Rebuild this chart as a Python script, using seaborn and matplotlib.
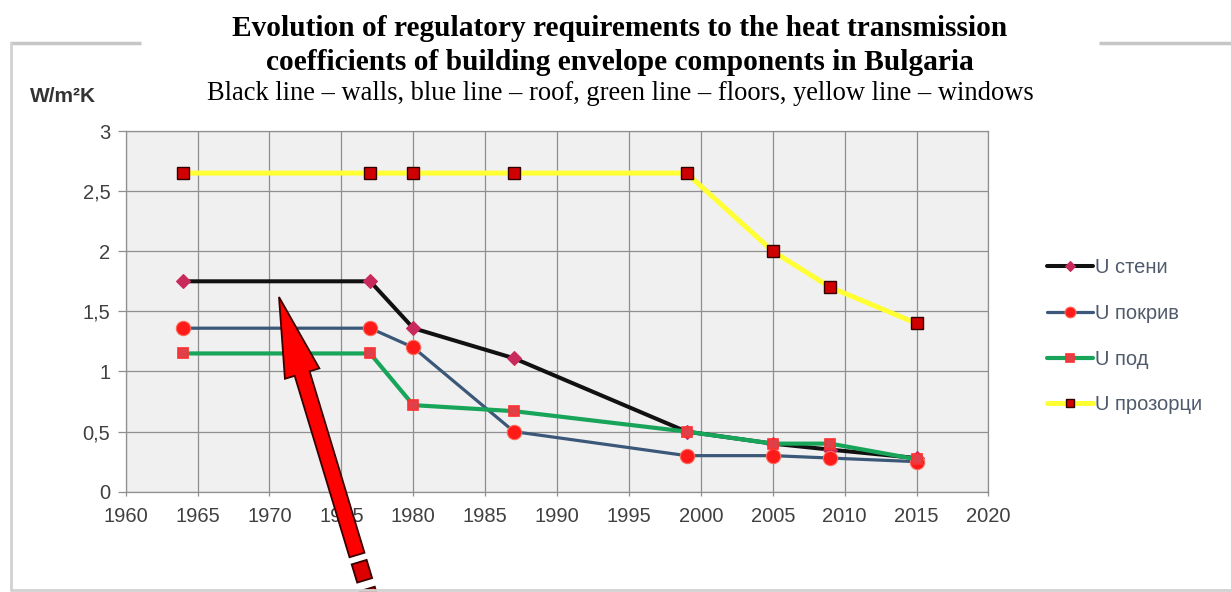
import numpy as np
import pandas as pd
import matplotlib
matplotlib.use('Agg')
import matplotlib.pyplot as plt
import seaborn as sns
from matplotlib.patches import Polygon

# ---------------- data ----------------
years = [1964, 1977, 1980, 1987, 1999, 2005, 2009, 2015]
u_walls = [1.75, 1.75, 1.36, 1.11, 0.50, 0.40, 0.35, 0.28]
u_roof = [1.36, 1.36, 1.20, 0.50, 0.30, 0.30, 0.28, 0.25]
u_floor = [1.15, 1.15, 0.72, 0.67, 0.50, 0.40, 0.40, 0.27]
u_windows = [2.65, 2.65, 2.65, 2.65, 2.65, 2.00, 1.70, 1.40]
series_labels = ['U стени', 'U покрив', 'U под', 'U прозорци']
x_ticks = [1960, 1965, 1970, 1975, 1980, 1985, 1990, 1995, 2000, 2005, 2010, 2015, 2020]
y_ticks = [0, 0.5, 1, 1.5, 2, 2.5, 3]
y_tick_labels = ['0', '0,5', '1', '1,5', '2', '2,5', '3']
title_line1 = 'Evolution of regulatory requirements to the heat transmission'
title_line2 = 'coefficients of building envelope components in Bulgaria'
subtitle = 'Black line \u2013 walls, blue line \u2013 roof, green line \u2013 floors, yellow line \u2013 windows'
unit_label = 'W/m\u00b2K'

df = pd.DataFrame({'year': years,
                   series_labels[0]: u_walls,
                   series_labels[1]: u_roof,
                   series_labels[2]: u_floor,
                   series_labels[3]: u_windows})

sns.set_style('white')
plt.rcParams['font.family'] = ['Liberation Sans', 'DejaVu Sans']

fig = plt.figure(figsize=(12.31, 5.92), dpi=100)
ax = fig.add_axes([0.1021, 0.1694, 0.7009, 0.6093])
ax.set_facecolor('#f0f0f0')

styles = [
    dict(color='#111111', linewidth=2.9, marker='D', markersize=7.2,
         markerfacecolor='#c92a5c', markeredgecolor='#c92a5c', markeredgewidth=0.8, zorder=3),
    dict(color='#3b5878', linewidth=2.3, marker='o', markersize=10.3,
         markerfacecolor='#ff1a1a', markeredgecolor='#ff6a5a', markeredgewidth=0.8, zorder=4),
    dict(color='#18a55a', linewidth=3.0, marker='s', markersize=7.0,
         markerfacecolor='#e0404a', markeredgecolor='#ff3030', markeredgewidth=1.2, zorder=5),
    dict(color='#ffff33', linewidth=3.6, marker='s', markersize=8.5,
         markerfacecolor='#d00000', markeredgecolor='#300000', markeredgewidth=1.0, zorder=6),
]

for lab, st in zip(series_labels, styles):
    sns.lineplot(data=df, x='year', y=lab, ax=ax, label=lab, errorbar=None, **st)

if ax.get_legend() is not None:
    ax.get_legend().remove()

ax.set_xlim(1960, 2020)
ax.set_ylim(0, 3)
ax.set_xticks(x_ticks)
ax.set_yticks(y_ticks)
ax.set_yticklabels(y_tick_labels)
ax.set_xlabel('')
ax.set_ylabel('')
ax.grid(True, color='#8f8f8f', linewidth=0.9)
ax.set_axisbelow(True)
for sp in ax.spines.values():
    sp.set_visible(True)
    sp.set_color('#8f8f8f')
    sp.set_linewidth(0.9)
ax.tick_params(axis='both', labelsize=14.5, labelcolor='#404040', color='#8f8f8f', width=0.9)
ax.tick_params(axis='x', length=3, pad=8, direction='out', bottom=True)
ax.tick_params(axis='y', length=6, pad=5, direction='out', left=True)

handles, labels = ax.get_legend_handles_labels()
fig.legend(handles, labels, loc='center left', bbox_to_anchor=(0.8505, 0.432),
           bbox_transform=fig.transFigure, frameon=False, fontsize=14.5,
           handlelength=2.3, handletextpad=0.1, labelspacing=1.33,
           borderpad=0, borderaxespad=0, markerscale=0.75, labelcolor='#4f5a6b')

# titles
fig.text(620 / 1231, 1 - 28 / 592, title_line1, ha='center', va='center',
         fontsize=21.2, fontweight='bold', family='Liberation Serif', color='#000000')
fig.text(620 / 1231, 1 - 62 / 592, title_line2, ha='center', va='center',
         fontsize=21.2, fontweight='bold', family='Liberation Serif', color='#000000')
fig.text(620 / 1231, 1 - 93 / 592, subtitle, ha='center', va='center',
         fontsize=19.1, family='Liberation Serif', color='#000000')
fig.text(30 / 1231, 1 - 96 / 592, unit_label, ha='left', va='center',
         fontsize=15, fontweight='bold', color='#333333')

# overlay for frame and arrow annotation (pixel coordinates)
ov = fig.add_axes([0, 0, 1, 1])
ov.set_xlim(0, 1231)
ov.set_ylim(592, 0)
ov.axis('off')
frame_col = '#c6c6c6'
ov.plot([10, 141], [43, 43], color=frame_col, lw=2.5, solid_capstyle='butt')
ov.plot([1099, 1231], [43, 43], color=frame_col, lw=2.5, solid_capstyle='butt')
ov.plot([11, 11], [43, 590], color='#d2d2d2', lw=2.0)
ov.plot([11, 1231], [590, 590], color='#d2d2d2', lw=2.0)

tip = np.array([279.0, 297.0])
tail = np.array([357.0, 555.0])
d = (tip - tail) / np.linalg.norm(tip - tail)
n = np.array([-d[1], d[0]])
head_len, head_hw, shaft_hw = 80.0, 18.0, 7.8
base = tip - d * head_len
arrow_pts = [tip, base + n * head_hw, base + n * shaft_hw, tail + n * shaft_hw,
             tail - n * shaft_hw, base - n * shaft_hw, base - n * head_hw]
ov.add_patch(Polygon(arrow_pts, closed=True, facecolor='#ff0000', edgecolor='#3a0000', lw=1.3))
for s0, s1 in [(277, 296), (305, 330)]:
    p0 = tip - d * s0
    p1 = tip - d * s1
    pts = [p0 + n * shaft_hw, p1 + n * shaft_hw, p1 - n * shaft_hw, p0 - n * shaft_hw]
    ov.add_patch(Polygon(pts, closed=True, facecolor='#dd0000', edgecolor='#3a0000', lw=1.3))

fig.savefig('out.png', dpi=100)
